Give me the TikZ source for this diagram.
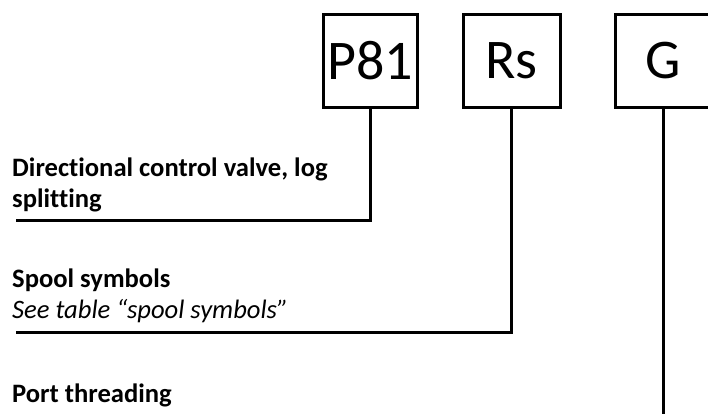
\documentclass[tikz,border=0pt]{standalone}
\usepackage{fontspec}
\setmainfont{Carlito}[Ligatures=NoCommon]
\usetikzlibrary{positioning}

\tikzset{
  codebox/.style={draw,line width=3pt,minimum width=94pt,minimum height=93pt,inner sep=0pt,font=\fontsize{56}{60}\selectfont},
  lead/.style={line width=3pt},
  caption/.style={anchor=base west,inner sep=0pt,align=left,font=\bfseries\fontsize{26.6}{31}\selectfont}
}

\begin{document}
\begin{tikzpicture}[x=1pt,y=-1pt]
          \useasboundingbox (0,0) rectangle (708,413);

          \node[codebox] (P) at (370,60.5) {P81};
          \node[codebox,minimum width=97pt] (R) at (511.5,60.5) {Rs};
          \node[codebox,minimum width=96pt] (G) at (663,60.5) {G};

          \coordinate (p) at (16,220);
          \coordinate (r) at (16,332);
          \coordinate (g) at (663,420);

          \node[caption] (valve) at (12,207) {Directional control valve, log\\splitting};
          \node[caption] (spool) at (12,318) {Spool symbols\\\mdseries\itshape See table “spool symbols”};
          \node[caption] (port) at (12,402) {Port threading};

          \draw[lead] (P.south) |- (p);
          \draw[lead] (R.south) |- (r);
          \draw[lead] (G.south) -- (g);

          \end{tikzpicture}
\end{document}
